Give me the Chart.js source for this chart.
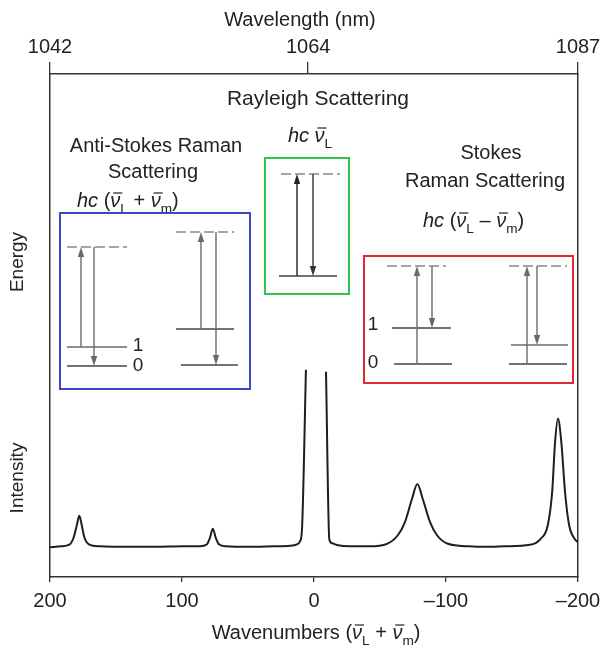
<!DOCTYPE html>
<html>
<head>
<meta charset="utf-8">
<script src="https://cdn.jsdelivr.net/npm/chart.js@4.4.0/dist/chart.umd.min.js"></script>
<style>
  html, body { margin: 0; padding: 0; background: #fff; }
  canvas { display: block; }
</style>
</head>
<body>
<canvas id="ramanChart" width="601" height="646"></canvas>
<script>
// spectrum (wavenumber shift, intensity in % of plot height)
const wavenumbers = [200, 192, 185, 182, 179.5, 177.8, 176.1, 174, 170.5, 162, 140, 120, 100,
  86.4, 81.1, 78.8, 76.7, 74.4, 72, 66.7, 50, 30, 18.2, 12.9, 10.6, 9.1, 6.1, 0,
  -9.1, -11.6, -13.6, -18.2, -27.3, -41.7, -55.3, -63.5, -68.9, -74.2, -78.3, -82.4, -87.9,
  -93.2, -101.4, -117.4, -130, -144.7, -163.6, -171.7, -177.1, -180.4, -182.6, -184.8,
  -187.4, -190.2, -193.3, -197.4, -200];
const intensity = [5.9, 6.1, 6.5, 7.9, 10.5, 12.2, 10.5, 7.9, 6.5, 6.1, 6.0, 6.0, 6.1,
  6.1, 6.5, 7.8, 9.6, 7.8, 6.5, 6.1, 6.0, 6.1, 6.2, 6.5, 7.1, 9.5, 41.2, null,
  40.8, 7.5, 6.7, 6.3, 6.1, 6.1, 6.6, 8.3, 10.9, 15.5, 18.5, 15.5, 10.9,
  8.3, 6.6, 6.1, 6.0, 6.1, 6.4, 7.6, 10.3, 16.8, 26.7, 31.5,
  26.7, 16.8, 10.3, 7.6, 6.9];
const wavenumberTicks = [200, 100, 0, -100, -200];
const wavelengthTicks = [1042, 1064, 1087];

const FONT = '"Liberation Sans", Arial, Helvetica, sans-serif';
const INK = '#222';
Chart.defaults.font.family = FONT;
Chart.defaults.color = INK;

const points = wavenumbers.map((w, i) => ({ x: w, y: intensity[i] }));

// text with italic / subscript / overbar pieces
function richText(ctx, parts, x, y, size, align) {
  const fontFor = p => (p.it ? 'italic ' : '') + (p.sub ? size * 0.68 : size) + 'px ' + FONT;
  let total = 0;
  const widths = parts.map(p => {
    ctx.font = fontFor(p);
    const w = ctx.measureText(p.t).width;
    total += w;
    return w;
  });
  let cx = align === 'center' ? x - total / 2 : x;
  ctx.textAlign = 'left';
  ctx.textBaseline = 'alphabetic';
  parts.forEach((p, i) => {
    ctx.font = fontFor(p);
    ctx.fillText(p.t, cx, y + (p.sub ? size * 0.28 : 0));
    if (p.bar) {
      ctx.beginPath();
      ctx.lineWidth = 1.2;
      ctx.moveTo(cx + size * 0.14, y - size * 0.7);
      ctx.lineTo(cx + widths[i] + size * 0.1, y - size * 0.7);
      ctx.stroke();
    }
    cx += widths[i];
  });
}

const nuL = [{ t: 'ν', it: true, bar: true }, { t: 'L', sub: true }];
const nuM = [{ t: 'ν', it: true, bar: true }, { t: 'm', sub: true }];

function hline(ctx, x1, x2, y, color, dashed) {
  ctx.beginPath();
  ctx.strokeStyle = color;
  ctx.lineWidth = 1.3;
  ctx.setLineDash(dashed ? [10, 4] : []);
  ctx.moveTo(x1, y);
  ctx.lineTo(x2, y);
  ctx.stroke();
  ctx.setLineDash([]);
}

function arrow(ctx, x, y1, y2, color) {
  const dir = y2 < y1 ? 1 : -1;
  ctx.strokeStyle = color;
  ctx.fillStyle = color;
  ctx.lineWidth = 1.4;
  ctx.beginPath();
  ctx.moveTo(x, y1);
  ctx.lineTo(x, y2 + dir * 6);
  ctx.stroke();
  ctx.beginPath();
  ctx.moveTo(x, y2);
  ctx.lineTo(x - 3.2, y2 + dir * 10);
  ctx.lineTo(x + 3.2, y2 + dir * 10);
  ctx.closePath();
  ctx.fill();
}

function label(ctx, text, x, y, size, opts) {
  ctx.font = (opts && opts.it ? 'italic ' : '') + size + 'px ' + FONT;
  ctx.fillStyle = INK;
  ctx.textAlign = 'center';
  ctx.textBaseline = 'middle';
  ctx.fillText(text, x, y);
}

const overlay = {
  id: 'overlay',
  afterDraw(chart) {
    const ctx = chart.ctx;
    ctx.save();
    ctx.fillStyle = INK;
    ctx.strokeStyle = INK;

    // axis titles
    label(ctx, 'Wavelength (nm)', 300, 20, 20);
    ctx.fillStyle = INK; ctx.strokeStyle = INK;
    richText(ctx, [{ t: 'Wavenumbers (' }, ...nuL, { t: ' + ' }, ...nuM, { t: ')' }], 316, 639, 20, 'center');

    ctx.save();
    ctx.translate(18, 262);
    ctx.rotate(-Math.PI / 2);
    label(ctx, 'Energy', 0, 0, 19);
    ctx.restore();
    ctx.save();
    ctx.translate(18, 478);
    ctx.rotate(-Math.PI / 2);
    label(ctx, 'Intensity', 0, 0, 19);
    ctx.restore();

    // headings
    label(ctx, 'Rayleigh Scattering', 318, 99, 21);
    label(ctx, 'Anti-Stokes Raman', 156, 146, 20);
    label(ctx, 'Scattering', 153, 172, 20);
    label(ctx, 'Stokes', 491, 153, 20);
    label(ctx, 'Raman Scattering', 485, 181, 20);
    ctx.fillStyle = INK; ctx.strokeStyle = INK;
    richText(ctx, [{ t: 'hc ', it: true }, ...nuL], 310, 142, 20, 'center');
    richText(ctx, [{ t: 'hc ', it: true }, { t: '(' }, ...nuL, { t: ' + ' }, ...nuM, { t: ')' }], 77, 207, 20, 'left');
    richText(ctx, [{ t: 'hc ', it: true }, { t: '(' }, ...nuL, { t: ' – ' }, ...nuM, { t: ')' }], 423, 227, 20, 'left');

    // boxes
    ctx.lineWidth = 2;
    ctx.strokeStyle = '#3c46c8';
    ctx.strokeRect(60, 213, 190, 176);
    ctx.strokeStyle = '#33c24d';
    ctx.strokeRect(265, 158, 84, 136);
    ctx.strokeStyle = '#e0282e';
    ctx.strokeRect(364, 256, 209, 127);

    const grey = '#6a6a6a', dash = '#888', lvl = '#444';
    // anti-Stokes
    hline(ctx, 67, 127, 247, dash, true);
    hline(ctx, 67, 127, 347, grey);
    hline(ctx, 67, 127, 366, lvl);
    arrow(ctx, 81, 347, 247, grey);
    arrow(ctx, 94, 247, 366, grey);
    label(ctx, '1', 138, 346, 19);
    label(ctx, '0', 138, 366, 19);
    hline(ctx, 176, 234, 232, dash, true);
    hline(ctx, 176, 234, 329, lvl);
    hline(ctx, 181, 238, 365, lvl);
    arrow(ctx, 201, 329, 232, grey);
    arrow(ctx, 216, 232, 365, grey);

    // Rayleigh
    hline(ctx, 281, 340, 174, dash, true);
    hline(ctx, 279, 337, 276, lvl);
    arrow(ctx, 297, 276, 174, '#222');
    arrow(ctx, 313, 174, 276, '#333');

    // Stokes
    hline(ctx, 387, 446, 266, dash, true);
    hline(ctx, 392, 451, 328, lvl);
    hline(ctx, 394, 452, 364, lvl);
    arrow(ctx, 417, 364, 266, grey);
    arrow(ctx, 432, 266, 328, grey);
    label(ctx, '1', 373, 325, 19);
    label(ctx, '0', 373, 363, 19);
    hline(ctx, 509, 567, 266, dash, true);
    hline(ctx, 511, 568, 345, grey);
    hline(ctx, 509, 567, 364, lvl);
    arrow(ctx, 527, 364, 266, grey);
    arrow(ctx, 537, 266, 345, grey);

    ctx.restore();
  }
};

const axisBorder = { display: true, color: '#333', width: 1.5 };

// keep the plot frame fixed: no extra room for end labels
function fixHorizontal(h) {
  return s => { s.height = h; s.paddingLeft = 0; s.paddingRight = 0; };
}

new Chart(document.getElementById('ramanChart'), {
  type: 'line',
  data: {
    datasets: [{
      data: points,
      borderColor: '#1e1e1e',
      borderWidth: 2,
      pointRadius: 0,
      fill: false,
      spanGaps: false,
      cubicInterpolationMode: 'monotone'
    }]
  },
  options: {
    responsive: false,
    animation: false,
    layout: { padding: 0 },
    plugins: { legend: { display: false }, tooltip: { enabled: false } },
    scales: {
      x: {
        type: 'linear',
        position: 'bottom',
        reverse: true,
        min: -200,
        max: 200,
        afterBuildTicks: s => { s.ticks = wavenumberTicks.map(v => ({ value: v })); },
        afterFit: fixHorizontal(69),
        ticks: {
          font: { size: 20 },
          color: INK,
          padding: 7,
          maxRotation: 0,
          autoSkip: false,
          callback: v => (v < 0 ? '–' + Math.abs(v) : String(v))
        },
        grid: { drawOnChartArea: false, drawTicks: true, tickLength: 5, color: '#333', lineWidth: 1.3 },
        border: axisBorder
      },
      top: {
        type: 'linear',
        position: 'top',
        min: 1042,
        max: 1087,
        afterBuildTicks: s => { s.ticks = wavelengthTicks.map(v => ({ value: v })); },
        afterFit: fixHorizontal(74),
        ticks: {
          font: { size: 20 },
          color: INK,
          padding: 3,
          maxRotation: 0,
          autoSkip: false,
          callback: v => String(v)
        },
        grid: { drawOnChartArea: false, drawTicks: true, tickLength: 12, color: '#333', lineWidth: 1.3 },
        border: axisBorder
      },
      y: {
        position: 'left',
        min: 0,
        max: 100,
        afterFit: s => { s.width = 50; },
        ticks: { display: false },
        grid: { display: false },
        border: axisBorder
      },
      yr: {
        position: 'right',
        min: 0,
        max: 100,
        afterFit: s => { s.width = 23; },
        ticks: { display: false },
        grid: { display: false },
        border: axisBorder
      }
    }
  },
  plugins: [overlay]
});
</script>
</body>
</html>
